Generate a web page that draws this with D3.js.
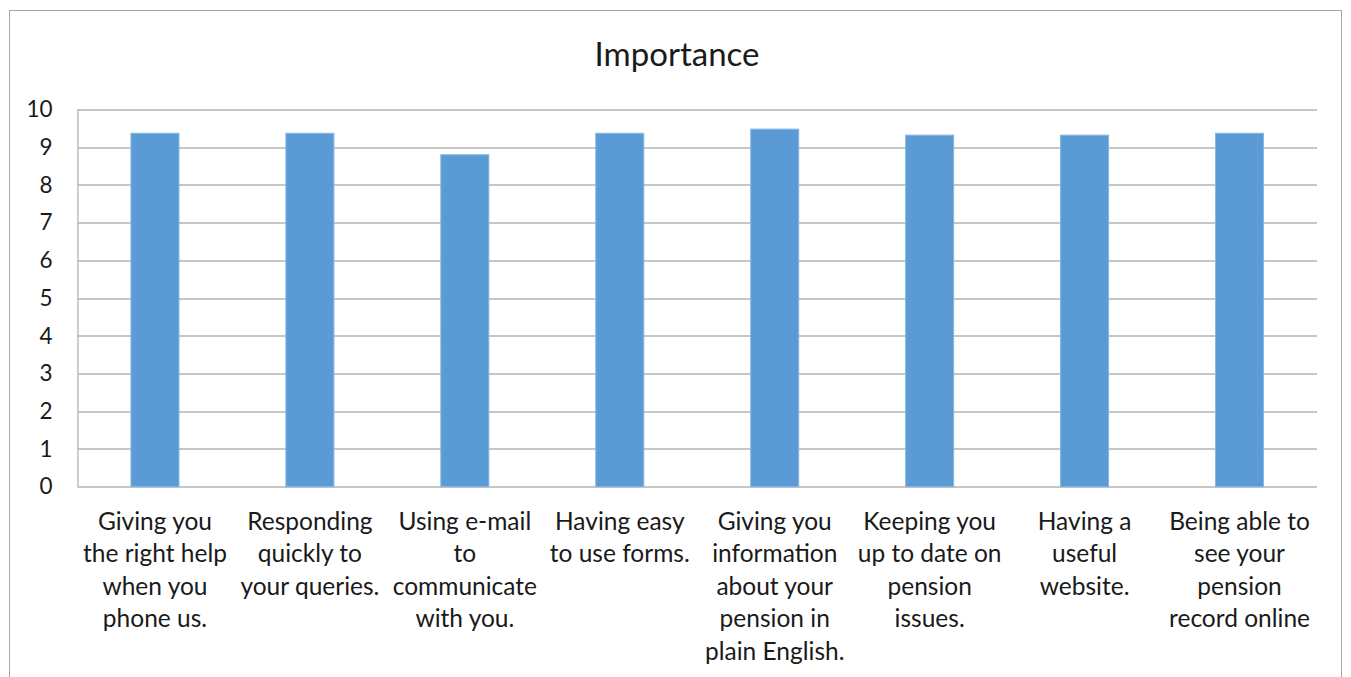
<!DOCTYPE html>
<html>
<head>
<meta charset="utf-8">
<script src="https://cdn.jsdelivr.net/npm/d3@7"></script>
<style>
  body { margin: 0; background: #fff; }
  svg { font-family: Lato, "Open Sans", sans-serif; }
</style>
</head>
<body>
<div id="chart"></div>
<script>
// categories (line breaks as in the original axis labels)
const categories = [
    "Giving you\nthe right help\nwhen you\nphone us.",
    "Responding\nquickly to\nyour queries.",
    "Using e-mail\nto\ncommunicate\nwith you.",
    "Having easy\nto use forms.",
    "Giving you\ninformation\nabout your\npension in\nplain English.",
    "Keeping you\nup to date on\npension\nissues.",
    "Having a\nuseful\nwebsite.",
    "Being able to\nsee your\npension\nrecord online"
];
const importance = [9.37, 9.37, 8.8, 9.37, 9.48, 9.32, 9.32, 9.37];
const yTicks = [0, 1, 2, 3, 4, 5, 6, 7, 8, 9, 10];

const width = 1351, height = 677;
const margin = { top: 109.5, right: 34, bottom: 190, left: 77.5 };

let svg = d3.select("#chart")
    .append("svg")
    .attr("width", width)
    .attr("height", height);

// outer chart border
svg.append("rect")
    .attr("x", 9.5).attr("y", 10.5)
    .attr("width", 1332).attr("height", 680)
    .attr("fill", "none")
    .attr("stroke", "#a6a6a6");

svg.append("text")
    .attr("x", 677).attr("y", 66)
    .attr("text-anchor", "middle")
    .attr("font-size", 33)
    .attr("fill", "#1a1a1a")
    .text("Importance");

let g = svg.append("g")
    .attr("transform", `translate(${margin.left}, ${margin.top})`);

const innerW = 1317 - margin.left;
const innerH = 486.7 - margin.top;

let x = d3.scaleBand()
    .domain(categories)
    .range([0, innerW])
    .paddingInner(0.69)
    .paddingOuter(0.345);

let y = d3.scaleLinear()
    .domain([0, 10])
    .range([innerH, 0]);

// gridlines
g.append("g")
    .selectAll("line")
    .data(yTicks)
    .enter()
    .append("line")
    .attr("x1", 0).attr("x2", innerW)
    .attr("y1", d => Math.round(y(d)) + 0.5)
    .attr("y2", d => Math.round(y(d)) + 0.5)
    .attr("stroke", "#b3b3b3")
    .attr("stroke-width", 1.3);

// left axis line
g.append("line")
    .attr("x1", 0.5).attr("x2", 0.5)
    .attr("y1", 0).attr("y2", innerH)
    .attr("stroke", "#b3b3b3")
    .attr("stroke-width", 1.3);

// y labels
let yAxis = g.append("g")
    .call(d3.axisLeft(y).tickValues(yTicks).tickSize(0).tickPadding(25).tickFormat(d3.format("d")));
yAxis.select(".domain").remove();
yAxis.selectAll("text")
    .attr("font-size", 22.5)
    .attr("font-family", "Lato, 'Open Sans', sans-serif")
    .attr("fill", "#1a1a1a");

// bars
g.append("g")
    .selectAll("rect")
    .data(importance)
    .enter()
    .append("rect")
    .attr("x", (d, i) => x(categories[i]))
    .attr("y", d => y(d))
    .attr("width", x.bandwidth())
    .attr("height", d => innerH - y(d))
    .attr("fill", "#5b9bd5")
    .attr("stroke", "#86b6e3")
    .attr("stroke-width", 1);

// x labels
let labels = g.append("g")
    .selectAll("text")
    .data(categories)
    .enter()
    .append("text")
    .attr("text-anchor", "middle")
    .attr("font-size", 24.5)
    .attr("fill", "#1a1a1a")
    .attr("transform", d => `translate(${x(d) + x.bandwidth() / 2}, ${innerH + 43})`);

labels.selectAll("tspan")
    .data(d => d.split("\n"))
    .enter()
    .append("tspan")
    .attr("x", 0)
    .attr("y", (d, i) => i * 32.5)
    .text(d => d);
</script>
</body>
</html>
